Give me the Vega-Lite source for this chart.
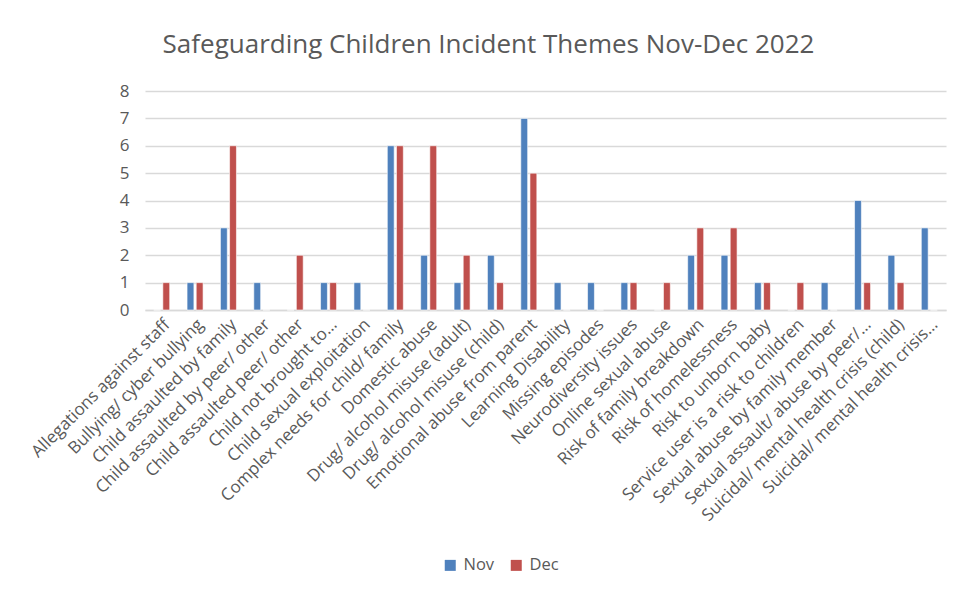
{
  "$schema": "https://vega.github.io/schema/vega-lite/v6.json",
  "width": 801,
  "height": 219,
  "autosize": {"type": "none"},
  "padding": {"left": 145, "top": 91, "right": 11, "bottom": 280},
  "background": "white",
  "title": {
    "text": "Safeguarding Children Incident Themes Nov-Dec 2022",
    "font": "Open Sans",
    "fontSize": 26,
    "fontWeight": "normal",
    "color": "#595959",
    "anchor": "middle",
    "frame": "group",
    "dx": -57,
    "offset": 24
  },
  "config": {
    "view": {"stroke": null},
    "font": "Open Sans"
  },
  "data": {
    "values": [
      {"theme": "Allegations against staff", "month": "Nov", "count": 0},
      {"theme": "Allegations against staff", "month": "Dec", "count": 1},
      {"theme": "Bullying/ cyber bullying", "month": "Nov", "count": 1},
      {"theme": "Bullying/ cyber bullying", "month": "Dec", "count": 1},
      {"theme": "Child assaulted by family", "month": "Nov", "count": 3},
      {"theme": "Child assaulted by family", "month": "Dec", "count": 6},
      {"theme": "Child assaulted by peer/ other", "month": "Nov", "count": 1},
      {"theme": "Child assaulted by peer/ other", "month": "Dec", "count": 0},
      {"theme": "Child assaulted peer/ other", "month": "Nov", "count": 0},
      {"theme": "Child assaulted peer/ other", "month": "Dec", "count": 2},
      {"theme": "Child not brought to…", "month": "Nov", "count": 1},
      {"theme": "Child not brought to…", "month": "Dec", "count": 1},
      {"theme": "Child sexual exploitation", "month": "Nov", "count": 1},
      {"theme": "Child sexual exploitation", "month": "Dec", "count": 0},
      {"theme": "Complex needs for child/ family", "month": "Nov", "count": 6},
      {"theme": "Complex needs for child/ family", "month": "Dec", "count": 6},
      {"theme": "Domestic abuse", "month": "Nov", "count": 2},
      {"theme": "Domestic abuse", "month": "Dec", "count": 6},
      {"theme": "Drug/ alcohol misuse (adult)", "month": "Nov", "count": 1},
      {"theme": "Drug/ alcohol misuse (adult)", "month": "Dec", "count": 2},
      {"theme": "Drug/ alcohol misuse (child)", "month": "Nov", "count": 2},
      {"theme": "Drug/ alcohol misuse (child)", "month": "Dec", "count": 1},
      {"theme": "Emotional abuse from parent", "month": "Nov", "count": 7},
      {"theme": "Emotional abuse from parent", "month": "Dec", "count": 5},
      {"theme": "Learning Disability", "month": "Nov", "count": 1},
      {"theme": "Learning Disability", "month": "Dec", "count": 0},
      {"theme": "Missing episodes", "month": "Nov", "count": 1},
      {"theme": "Missing episodes", "month": "Dec", "count": 0},
      {"theme": "Neurodiversity issues", "month": "Nov", "count": 1},
      {"theme": "Neurodiversity issues", "month": "Dec", "count": 1},
      {"theme": "Online sexual abuse", "month": "Nov", "count": 0},
      {"theme": "Online sexual abuse", "month": "Dec", "count": 1},
      {"theme": "Risk of family breakdown", "month": "Nov", "count": 2},
      {"theme": "Risk of family breakdown", "month": "Dec", "count": 3},
      {"theme": "Risk of homelessness", "month": "Nov", "count": 2},
      {"theme": "Risk of homelessness", "month": "Dec", "count": 3},
      {"theme": "Risk to unborn baby", "month": "Nov", "count": 1},
      {"theme": "Risk to unborn baby", "month": "Dec", "count": 1},
      {"theme": "Service user is a risk to children", "month": "Nov", "count": 0},
      {"theme": "Service user is a risk to children", "month": "Dec", "count": 1},
      {"theme": "Sexual abuse by family member", "month": "Nov", "count": 1},
      {"theme": "Sexual abuse by family member", "month": "Dec", "count": 0},
      {"theme": "Sexual assault/ abuse by peer/…", "month": "Nov", "count": 4},
      {"theme": "Sexual assault/ abuse by peer/…", "month": "Dec", "count": 1},
      {"theme": "Suicidal/ mental health crisis (child)", "month": "Nov", "count": 2},
      {"theme": "Suicidal/ mental health crisis (child)", "month": "Dec", "count": 1},
      {"theme": "Suicidal/ mental health crisis…", "month": "Nov", "count": 3},
      {"theme": "Suicidal/ mental health crisis…", "month": "Dec", "count": 0}
    ]
  },
  "mark": {"type": "bar", "stroke": "white", "strokeWidth": 0.6},
  "encoding": {
    "x": {
      "field": "theme",
      "type": "nominal",
      "sort": null,
      "title": null,
      "scale": {"paddingInner": 0.52, "paddingOuter": 0.26},
      "axis": {
        "labelAngle": -45,
        "labelFont": "Open Sans",
        "labelFontSize": 17,
        "labelColor": "#595959",
        "labelPadding": 6,
        "labelLimit": 400,
        "ticks": false,
        "domainColor": "#D9D9D9",
        "domainWidth": 1.5,
        "grid": false
      }
    },
    "xOffset": {
      "field": "month",
      "type": "nominal",
      "sort": ["Nov", "Dec"],
      "scale": {"paddingInner": 0.25, "paddingOuter": 0}
    },
    "y": {
      "field": "count",
      "type": "quantitative",
      "title": null,
      "scale": {"domain": [0, 8], "nice": false},
      "axis": {
        "values": [0, 1, 2, 3, 4, 5, 6, 7, 8],
        "labelFont": "Open Sans",
        "labelFontSize": 17,
        "labelColor": "#595959",
        "labelPadding": 16,
        "ticks": false,
        "domain": false,
        "gridColor": "#D9D9D9",
        "gridWidth": 1.5
      }
    },
    "color": {
      "field": "month",
      "type": "nominal",
      "scale": {"domain": ["Nov", "Dec"], "range": ["#4F81BD", "#C0504D"]},
      "legend": {
        "title": null,
        "orient": "none",
        "direction": "horizontal",
        "legendX": 297,
        "legendY": 466,
        "symbolType": "square",
        "symbolSize": 121,
        "symbolStrokeWidth": 0,
        "labelFont": "Open Sans",
        "labelFontSize": 16.5,
        "labelColor": "#595959",
        "labelOffset": 5,
        "columnPadding": 13
      }
    }
  }
}
